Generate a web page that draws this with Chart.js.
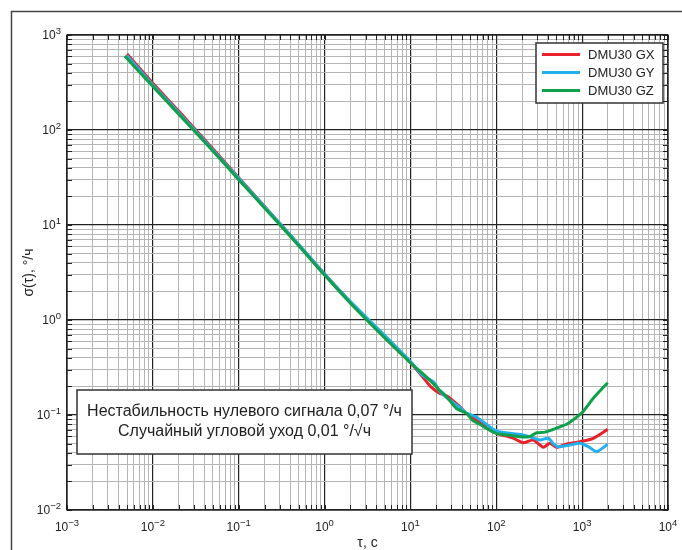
<!DOCTYPE html>
<html>
<head>
<meta charset="utf-8">
<script src="https://cdn.jsdelivr.net/npm/chart.js@4"></script>
<style>
  html, body { margin: 0; padding: 0; background: #fff; }
  canvas { display: block; }
</style>
</head>
<body>
<canvas id="allanChart" width="682" height="550"></canvas>
<script>
// data
const tauGX = [0.005, 0.01, 0.02, 0.05, 0.1, 0.2, 0.5, 1, 2, 5, 10, 14, 17.6, 21.8, 27.5, 37.7, 45, 64, 100, 157, 206, 269, 352, 422, 505, 661, 942, 1349, 1983];
const sigmaGX = [630, 310, 158, 63.5, 31.5, 15.7, 6.2, 3.05, 1.55, 0.66, 0.355, 0.25, 0.195, 0.17, 0.156, 0.122, 0.104, 0.084, 0.065, 0.057, 0.051, 0.0546, 0.0457, 0.0504, 0.0457, 0.0495, 0.0524, 0.0569, 0.0706];

const tauGY = [0.005, 0.01, 0.02, 0.05, 0.1, 0.2, 0.5, 1, 2, 5, 10, 14, 18.4, 21.8, 25, 30, 37.5, 45, 58.9, 70, 100, 150, 206, 260, 322, 403, 460, 525, 721, 942, 1200, 1472, 1983];
const sigmaGY = [605, 298, 152, 61.5, 31, 15.6, 6.25, 3.05, 1.56, 0.69, 0.365, 0.26, 0.224, 0.18, 0.158, 0.14, 0.12, 0.105, 0.095, 0.085, 0.068, 0.064, 0.0616, 0.058, 0.0546, 0.0569, 0.05, 0.0463, 0.0483, 0.0504, 0.046, 0.0411, 0.0492];

const tauGZ = [0.0047, 0.01, 0.02, 0.05, 0.1, 0.2, 0.5, 1, 2, 5, 10, 16.8, 21.8, 26.3, 34.4, 45, 53, 64, 100, 150, 188, 246, 295, 368, 450, 550, 661, 800, 1000, 1349, 1983];
const sigmaGZ = [600, 288, 147, 60, 30, 15.1, 6.05, 2.97, 1.5, 0.65, 0.355, 0.233, 0.183, 0.156, 0.117, 0.104, 0.088, 0.08, 0.064, 0.061, 0.059, 0.0595, 0.065, 0.066, 0.07, 0.075, 0.08, 0.09, 0.106, 0.15, 0.219];

const seriesLabels = ['DMU30 GX', 'DMU30 GY', 'DMU30 GZ'];
const seriesColors = ['#e8212b', '#22b1ec', '#10a04c'];

// axis decades (exponents of 10) and minor steps
const xDecades = [-3, -2, -1, 0, 1, 2, 3, 4];
const yDecades = [-2, -1, 0, 1, 2, 3];
const minorSteps = [2, 3, 4, 5, 6, 7, 8, 9];

const xTitle = 'τ, с';
const yTitle = 'σ(τ), °/ч';
const noteLines = ['Нестабильность нулевого сигнала 0,07 °/ч', 'Случайный угловой уход 0,01 °/√ч'];

function gridValues(decades) {
    const vals = [];
    decades.forEach((d, i) => {
        vals.push(Math.pow(10, d));
        if (i < decades.length - 1) minorSteps.forEach(s => vals.push(s * Math.pow(10, d)));
    });
    return vals;
}

function isDecade(v) {
    const l = Math.log10(v);
    return Math.abs(l - Math.round(l)) < 1e-6;
}

function toPoints(xs, ys) {
    return xs.map((x, i) => ({ x: x, y: ys[i] }));
}

const FONT = '"Liberation Sans", Arial, sans-serif';
const TEXT = '#222';

// draw "10" with a raised exponent
function drawPow(ctx, exp, x, y, align) {
    const base = '10';
    const sup = exp < 0 ? '\u2212' + Math.abs(exp) : String(exp);
    ctx.font = '12px ' + FONT;
    const wb = ctx.measureText(base).width;
    ctx.font = '9.5px ' + FONT;
    const ws = ctx.measureText(sup).width;
    const total = wb + ws;
    let left = x;
    if (align === 'right') left = x - total;
    if (align === 'center') left = x - total / 2;
    ctx.fillStyle = TEXT;
    ctx.textAlign = 'left';
    ctx.textBaseline = 'middle';
    ctx.font = '12px ' + FONT;
    ctx.fillText(base, left, y);
    ctx.font = '9.5px ' + FONT;
    ctx.fillText(sup, left + wb, y - 5);
}

const decorPlugin = {
    id: 'decor',
    afterDraw(chart) {
        const ctx = chart.ctx;
        const a = chart.chartArea;
        const xs = chart.scales.x;
        const ys = chart.scales.y;
        ctx.save();

        // small inward ticks on all four sides
        ctx.strokeStyle = '#222';
        ctx.lineWidth = 1;
        gridValues(xDecades).forEach(v => {
            const px = Math.round(xs.getPixelForValue(v)) + 0.5;
            ctx.beginPath();
            ctx.moveTo(px, a.bottom); ctx.lineTo(px, a.bottom - 5);
            ctx.moveTo(px, a.top); ctx.lineTo(px, a.top + 5);
            ctx.stroke();
        });
        gridValues(yDecades).forEach(v => {
            const py = Math.round(ys.getPixelForValue(v)) + 0.5;
            ctx.beginPath();
            ctx.moveTo(a.left, py); ctx.lineTo(a.left + 5, py);
            ctx.moveTo(a.right, py); ctx.lineTo(a.right - 5, py);
            ctx.stroke();
        });

        // plot frame
        ctx.lineWidth = 1.3;
        ctx.strokeStyle = '#222';
        ctx.strokeRect(a.left, a.top, a.right - a.left, a.bottom - a.top);

        // outer frame
        ctx.strokeStyle = '#444';
        ctx.lineWidth = 1.5;
        ctx.beginPath();
        ctx.moveTo(11.5, 560); ctx.lineTo(11.5, 11.5); ctx.lineTo(700, 11.5);
        ctx.stroke();

        // tick labels
        yDecades.forEach(d => drawPow(ctx, d, a.left - 6, ys.getPixelForValue(Math.pow(10, d)) + 1, 'right'));
        xDecades.forEach(d => drawPow(ctx, d, xs.getPixelForValue(Math.pow(10, d)), a.bottom + 18, 'center'));

        // axis titles
        ctx.fillStyle = TEXT;
        ctx.font = '14px ' + FONT;
        ctx.textAlign = 'center';
        ctx.textBaseline = 'middle';
        ctx.fillText(xTitle, (a.left + a.right) / 2, a.bottom + 33);
        ctx.save();
        ctx.translate(29, (a.top + a.bottom) / 2);
        ctx.rotate(-Math.PI / 2);
        ctx.fillText(yTitle, 0, 0);
        ctx.restore();

        // legend box
        const lx = 536, ly = 43, lw = 127, lh = 60;
        ctx.fillStyle = '#fff';
        ctx.fillRect(lx, ly, lw, lh);
        ctx.strokeStyle = '#333';
        ctx.lineWidth = 1.5;
        ctx.strokeRect(lx, ly, lw, lh);
        chart.data.datasets.forEach((ds, i) => {
            const ry = ly + 11.5 + i * 18;
            ctx.strokeStyle = ds.borderColor;
            ctx.lineWidth = 3;
            ctx.beginPath();
            ctx.moveTo(542, ry); ctx.lineTo(580, ry);
            ctx.stroke();
            ctx.fillStyle = TEXT;
            ctx.font = '13px ' + FONT;
            ctx.textAlign = 'left';
            ctx.textBaseline = 'middle';
            ctx.fillText(ds.label, 588, ry + 1);
        });

        // note box
        const nx = 77, ny = 390, nw = 335, nh = 64;
        ctx.fillStyle = '#fff';
        ctx.fillRect(nx, ny, nw, nh);
        ctx.strokeStyle = '#333';
        ctx.lineWidth = 1.5;
        ctx.strokeRect(nx, ny, nw, nh);
        ctx.fillStyle = TEXT;
        ctx.font = '16px ' + FONT;
        ctx.textAlign = 'center';
        ctx.textBaseline = 'middle';
        noteLines.forEach((t, i) => ctx.fillText(t, nx + nw / 2, 412 + i * 19.5));

        ctx.restore();
    }
};

const ctx = document.getElementById('allanChart').getContext('2d');
const sigmaSets = [sigmaGX, sigmaGY, sigmaGZ];
const tauSets = [tauGX, tauGY, tauGZ];

window.chartInstance = new Chart(ctx, {
    type: 'line',
    data: {
        datasets: seriesLabels.map((label, i) => ({
            label: label,
            data: toPoints(tauSets[i], sigmaSets[i]),
            borderColor: seriesColors[i],
            borderWidth: 3,
            pointRadius: 0,
            fill: false,
            tension: 0.25,
            order: 3 - i
        }))
    },
    options: {
        responsive: false,
        devicePixelRatio: 1,
        animation: false,
        layout: { padding: { left: 67, top: 35, right: 14, bottom: 40 } },
        plugins: {
            legend: { display: false },
            tooltip: { enabled: false }
        },
        scales: {
            x: {
                type: 'logarithmic',
                min: 1e-3,
                max: 1e4,
                afterBuildTicks: s => { s.ticks = gridValues(xDecades).map(v => ({ value: v })); },
                ticks: { display: false },
                border: { display: false },
                grid: {
                    drawTicks: false,
                    color: c => isDecade(c.tick.value) ? '#222' : '#b5b5b5',
                    lineWidth: c => isDecade(c.tick.value) ? 1.2 : 1
                }
            },
            y: {
                type: 'logarithmic',
                min: 1e-2,
                max: 1e3,
                afterBuildTicks: s => { s.ticks = gridValues(yDecades).map(v => ({ value: v })); },
                ticks: { display: false },
                border: { display: false },
                grid: {
                    drawTicks: false,
                    color: c => isDecade(c.tick.value) ? '#222' : '#b5b5b5',
                    lineWidth: c => isDecade(c.tick.value) ? 1.2 : 1
                }
            }
        }
    },
    plugins: [decorPlugin]
});
</script>
</body>
</html>
